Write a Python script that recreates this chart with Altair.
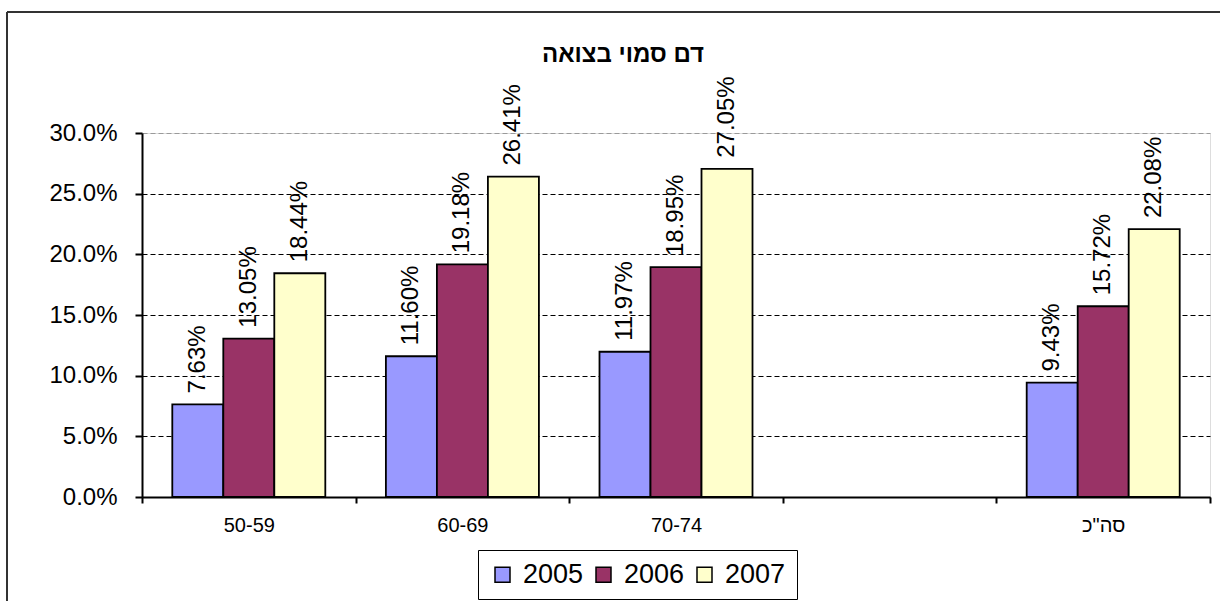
import altair as alt
import pandas as pd

# Screening results: share of positive occult-blood tests by age group and year
groups = ["50-59", "60-69", "70-74", 'סה"כ']
axis_order = ["50-59", "60-69", "70-74", " ", 'סה"כ']  # blank slot before the total
years = ["2005", "2006", "2007"]
rate_2005 = [7.63, 11.60, 11.97, 9.43]
rate_2006 = [13.05, 19.18, 18.95, 15.72]
rate_2007 = [18.44, 26.41, 27.05, 22.08]
year_colors = ["#9999FF", "#993366", "#FFFFCC"]
y_ticks = [0.0, 0.05, 0.10, 0.15, 0.20, 0.25, 0.30]
title_text = "דם סמוי בצואה"

rows = []
for year, vals in zip(years, [rate_2005, rate_2006, rate_2007]):
    for g, v in zip(groups, vals):
        rows.append({"group": g, "year": year, "rate": v / 100})
df = pd.DataFrame(rows)

FONT = "Liberation Sans"

x_enc = alt.X(
    "group:N",
    scale=alt.Scale(domain=axis_order, paddingInner=0, paddingOuter=0),
    axis=alt.Axis(
        title=None, labelAngle=0, tickBand="extent", grid=False,
        domainColor="black", domainWidth=2, tickColor="black", tickWidth=2,
        tickSize=6, labelFontSize=20, labelFont=FONT, labelColor="black",
        labelPadding=12,
    ),
)
xo_enc = alt.XOffset(
    "year:N",
    scale=alt.Scale(domain=years, paddingInner=0, paddingOuter=0.594),
)
y_enc = alt.Y(
    "rate:Q",
    scale=alt.Scale(domain=[0, 0.3], nice=False, zero=True),
    axis=alt.Axis(
        title=None, values=y_ticks, format=".1%",
        domainColor="black", domainWidth=2, tickColor="black", tickWidth=2,
        tickSize=7, labelFontSize=24, labelFont=FONT, labelColor="black",
        labelPadding=18,
        grid=True, gridDash=[5, 3], gridWidth=1.2,
        gridColor={"condition": {"test": "datum.value >= 0.3", "value": "#9a9a9a"},
                   "value": "black"},
    ),
)

base = alt.Chart(df)

bars = base.mark_bar(stroke="black", strokeWidth=1.8).encode(
    x=x_enc,
    xOffset=xo_enc,
    y=y_enc,
    color=alt.Color(
        "year:N",
        scale=alt.Scale(domain=years, range=year_colors),
        legend=alt.Legend(
            title=None, orient="none", legendX=336, legendY=417,
            direction="horizontal", strokeColor="black", padding=11,
            symbolType="square", symbolSize=225, symbolStrokeColor="black",
            symbolStrokeWidth=1.5, labelFontSize=27, labelFont=FONT,
            labelColor="black", labelOffset=7, columnPadding=6,
        ),
    ),
)

labels = base.mark_text(
    angle=270, align="left", baseline="middle", dx=11,
    fontSize=24, font=FONT, color="black",
).encode(
    x=x_enc,
    xOffset=xo_enc,
    y=y_enc,
    text=alt.Text("rate:Q", format=".2%"),
)

# outer chart frame (left and top edges)
frame = alt.Data(values=[{}])
frame_left = alt.Chart(frame).mark_rule(color="#333333", strokeWidth=2).encode(
    x=alt.value(-135), y=alt.value(-121), y2=alt.value(600)
)
frame_top = alt.Chart(frame).mark_rule(color="#333333", strokeWidth=2).encode(
    y=alt.value(-121), x=alt.value(-135), x2=alt.value(1200)
)

chart = alt.layer(bars, labels, frame_left, frame_top).properties(
    width=1068,
    height=364,
    title=alt.TitleParams(
        title_text, font=FONT, fontSize=24, fontWeight="bold", color="black",
        anchor="middle", dx=-53, offset=0, dy=56,
    ),
    autosize=alt.AutoSizeParams(type="none"),
    padding={"left": 142, "top": 133, "right": 10, "bottom": 104},
).configure_view(
    stroke="#8a8a8a", strokeDash=[3, 2], strokeWidth=1,
).configure(background="white")

chart.save("out.html", embed_options={"renderer": "svg", "actions": False})
